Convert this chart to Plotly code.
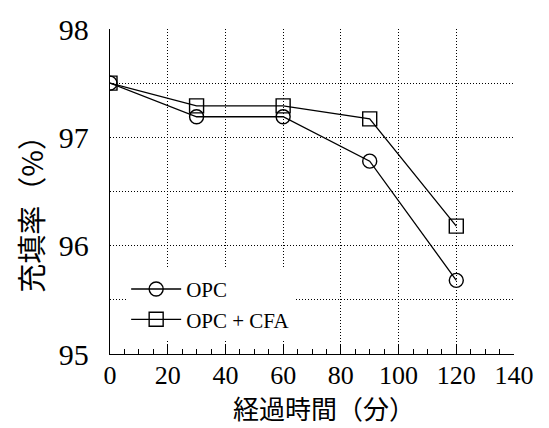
import plotly.graph_objects as go

time_min = [0, 30, 60, 90, 120]
opc = [97.5, 97.19, 97.19, 96.78, 95.68]
opc_cfa = [97.5, 97.29, 97.29, 97.17, 96.18]
series_names = ["OPC", "OPC + CFA"]
x_ticks = [0, 20, 40, 60, 80, 100, 120, 140]
y_ticks = [95, 95.5, 96, 96.5, 97, 97.5, 98]
y_labels = ["95", "", "96", "", "97", "", "98"]
x_title = "経過時間（分）"
y_title = "充填率（%）"

SERIF = "Liberation Serif"
CJK = "Noto Sans CJK JP"

fig = go.Figure()
fig.add_trace(go.Scatter(
    x=time_min, y=opc, name=series_names[0], mode="lines+markers",
    line=dict(color="black", width=1.3),
    marker=dict(symbol="circle-open", size=14, color="black", line=dict(width=1.4)),
))
fig.add_trace(go.Scatter(
    x=time_min, y=opc_cfa, name=series_names[1], mode="lines+markers",
    line=dict(color="black", width=1.3),
    marker=dict(symbol="square-open", size=14, color="black", line=dict(width=1.4)),
))

fig.update_layout(
    width=549, height=428,
    margin=dict(l=110, r=35, t=21, b=74),
    paper_bgcolor="white", plot_bgcolor="white",
    showlegend=True,
    legend=dict(
        x=0.04, y=0.262, xanchor="left", yanchor="top",
        bgcolor="white", borderwidth=0,
        font=dict(family=SERIF, size=21, color="black"),
        itemwidth=50, tracegroupgap=0,
    ),
    font=dict(family=SERIF, color="black"),
)

fig.update_xaxes(
    range=[0, 140], tickvals=x_ticks, ticktext=[str(v) for v in x_ticks],
    showline=True, linecolor="black", linewidth=1.3, mirror=False,
    showgrid=True, gridcolor="black", gridwidth=1, griddash="1px,2px",
    ticks="inside", ticklen=9, tickcolor="black", tickwidth=1,
    minor=dict(dtick=5, ticks="inside", ticklen=5, tickcolor="black", tickwidth=1, showgrid=False),
    tickfont=dict(family=SERIF, size=26, color="black"),
    ticklabelstandoff=-2,
    zeroline=False, fixedrange=True,
)
fig.update_yaxes(
    range=[95, 98], tickvals=y_ticks, ticktext=y_labels,
    showline=True, linecolor="black", linewidth=1.3, mirror=False,
    showgrid=True, gridcolor="black", gridwidth=1, griddash="1px,2px",
    ticks="", tickfont=dict(family=SERIF, size=30, color="black"),
    ticklabelstandoff=14,
    zeroline=False, fixedrange=True,
)

fig.add_annotation(
    text=x_title, xref="paper", yref="paper", x=0.53, y=-0.166,
    xanchor="center", yanchor="middle", showarrow=False,
    font=dict(family=CJK, size=26, color="black"),
)
fig.add_annotation(
    text=y_title, xref="paper", yref="paper", x=-0.198, y=0.453,
    xanchor="center", yanchor="middle", showarrow=False, textangle=-90,
    font=dict(family=CJK, size=29, color="black"),
)

fig.write_html("out.html")
